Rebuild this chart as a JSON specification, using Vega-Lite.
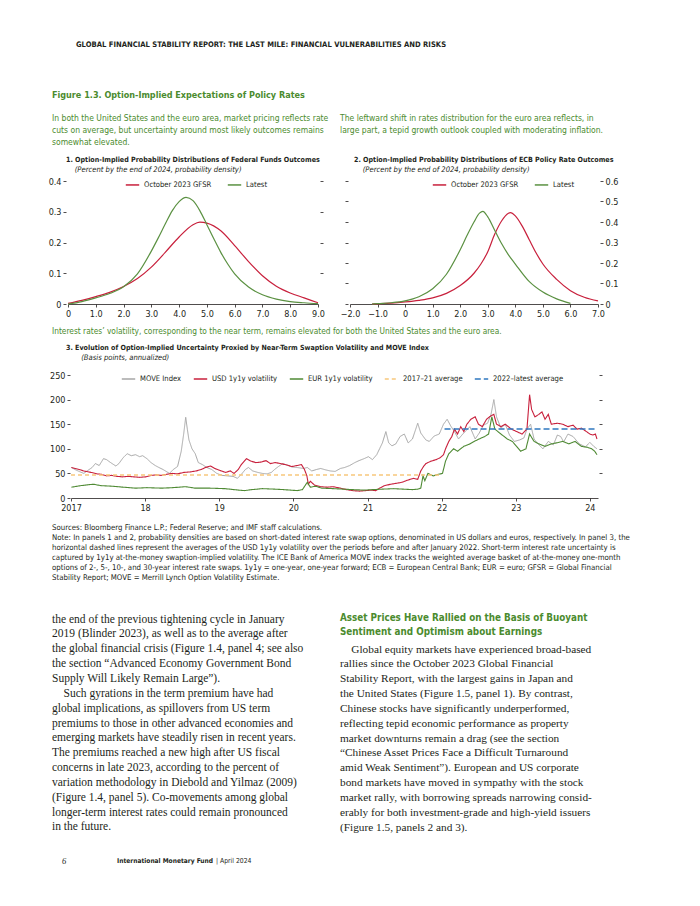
{
"$schema": "https://vega.github.io/schema/vega-lite/v6.json",
"padding": {"left": 48, "top": 41, "right": 20, "bottom": 20},
"background": "white",
"bounds": "flush", "spacing": 0, "align": "none",
"resolve": {"scale": {"color": "independent", "strokeDash": "independent"}, "legend": {"color": "independent", "strokeDash": "independent"}},
"config": {
 "view": {"stroke": null},
 "font": "Liberation Sans Narrow, Arial Narrow, DejaVu Sans Condensed, sans-serif",
 "title": {"anchor": "start", "frame": "group", "color": "#231f20", "fontWeight": "normal", "font": "Liberation Sans Narrow, Arial Narrow, DejaVu Sans Condensed, sans-serif", "subtitleFont": "Liberation Sans Narrow, Arial Narrow, DejaVu Sans Condensed, sans-serif", "subtitleColor": "#231f20", "offset": 0},
 "axis": {"labelFont": "Liberation Sans Narrow, Arial Narrow, DejaVu Sans Condensed, sans-serif", "labelFontSize": 9, "labelColor": "#231f20", "tickColor": "#231f20", "domainColor": "#231f20", "grid": false, "labelFlush": false, "labelOverlap": false, "tickSize": 3, "labelPadding": 2, "domainWidth": 0.8, "tickWidth": 0.8},
 "legend": {"labelFont": "Liberation Sans Narrow, Arial Narrow, DejaVu Sans Condensed, sans-serif", "labelFontSize": 7.6, "labelColor": "#231f20", "symbolType": "stroke", "symbolStrokeWidth": 1.5, "symbolSize": 180, "orient": "none", "direction": "horizontal", "columnPadding": 12, "labelOffset": 4}
},
"datasets": {
 "p1": [
  {"s":"October 2023 GFSR","x":0,"y":0.002},{"s":"October 2023 GFSR","x":0.5,"y":0.012},{"s":"October 2023 GFSR","x":1,"y":0.024},{"s":"October 2023 GFSR","x":1.5,"y":0.038},{"s":"October 2023 GFSR","x":2,"y":0.057},{"s":"October 2023 GFSR","x":2.5,"y":0.083},{"s":"October 2023 GFSR","x":3,"y":0.12},{"s":"October 2023 GFSR","x":3.5,"y":0.168},{"s":"October 2023 GFSR","x":4,"y":0.218},{"s":"October 2023 GFSR","x":4.5,"y":0.258},{"s":"October 2023 GFSR","x":4.75,"y":0.266},{"s":"October 2023 GFSR","x":5,"y":0.263},{"s":"October 2023 GFSR","x":5.5,"y":0.238},{"s":"October 2023 GFSR","x":6,"y":0.19},{"s":"October 2023 GFSR","x":6.5,"y":0.138},{"s":"October 2023 GFSR","x":7,"y":0.092},{"s":"October 2023 GFSR","x":7.5,"y":0.058},{"s":"October 2023 GFSR","x":8,"y":0.036},{"s":"October 2023 GFSR","x":8.5,"y":0.02},{"s":"October 2023 GFSR","x":9,"y":0.004},
  {"s":"Latest","x":0,"y":0},{"s":"Latest","x":0.5,"y":0.008},{"s":"Latest","x":1,"y":0.02},{"s":"Latest","x":1.5,"y":0.034},{"s":"Latest","x":2,"y":0.056},{"s":"Latest","x":2.5,"y":0.098},{"s":"Latest","x":3,"y":0.172},{"s":"Latest","x":3.25,"y":0.215},{"s":"Latest","x":3.5,"y":0.26},{"s":"Latest","x":3.75,"y":0.303},{"s":"Latest","x":4,"y":0.333},{"s":"Latest","x":4.25,"y":0.347},{"s":"Latest","x":4.5,"y":0.336},{"s":"Latest","x":4.75,"y":0.303},{"s":"Latest","x":5,"y":0.258},{"s":"Latest","x":5.25,"y":0.212},{"s":"Latest","x":5.5,"y":0.168},{"s":"Latest","x":5.75,"y":0.13},{"s":"Latest","x":6,"y":0.098},{"s":"Latest","x":6.5,"y":0.055},{"s":"Latest","x":7,"y":0.03},{"s":"Latest","x":7.5,"y":0.016},{"s":"Latest","x":8,"y":0.008},{"s":"Latest","x":8.5,"y":0.004},{"s":"Latest","x":9,"y":0.001}
 ],
 "p2": [
  {"s":"October 2023 GFSR","x":-1.2,"y":0},{"s":"October 2023 GFSR","x":-1,"y":0.001},{"s":"October 2023 GFSR","x":-0.5,"y":0.004},{"s":"October 2023 GFSR","x":0,"y":0.01},{"s":"October 2023 GFSR","x":0.5,"y":0.018},{"s":"October 2023 GFSR","x":1,"y":0.03},{"s":"October 2023 GFSR","x":1.5,"y":0.052},{"s":"October 2023 GFSR","x":2,"y":0.09},{"s":"October 2023 GFSR","x":2.5,"y":0.15},{"s":"October 2023 GFSR","x":2.75,"y":0.195},{"s":"October 2023 GFSR","x":3,"y":0.255},{"s":"October 2023 GFSR","x":3.25,"y":0.34},{"s":"October 2023 GFSR","x":3.5,"y":0.405},{"s":"October 2023 GFSR","x":3.75,"y":0.443},{"s":"October 2023 GFSR","x":3.82,"y":0.446},{"s":"October 2023 GFSR","x":4,"y":0.43},{"s":"October 2023 GFSR","x":4.25,"y":0.38},{"s":"October 2023 GFSR","x":4.5,"y":0.315},{"s":"October 2023 GFSR","x":4.75,"y":0.25},{"s":"October 2023 GFSR","x":5,"y":0.195},{"s":"October 2023 GFSR","x":5.5,"y":0.12},{"s":"October 2023 GFSR","x":6,"y":0.065},{"s":"October 2023 GFSR","x":6.5,"y":0.033},{"s":"October 2023 GFSR","x":7,"y":0.015},
  {"s":"Latest","x":-1.2,"y":0},{"s":"Latest","x":-1,"y":0.002},{"s":"Latest","x":-0.5,"y":0.006},{"s":"Latest","x":0,"y":0.015},{"s":"Latest","x":0.5,"y":0.035},{"s":"Latest","x":1,"y":0.074},{"s":"Latest","x":1.5,"y":0.145},{"s":"Latest","x":2,"y":0.265},{"s":"Latest","x":2.25,"y":0.335},{"s":"Latest","x":2.5,"y":0.4},{"s":"Latest","x":2.7,"y":0.443},{"s":"Latest","x":2.82,"y":0.452},{"s":"Latest","x":3,"y":0.425},{"s":"Latest","x":3.25,"y":0.36},{"s":"Latest","x":3.5,"y":0.295},{"s":"Latest","x":3.75,"y":0.24},{"s":"Latest","x":4,"y":0.195},{"s":"Latest","x":4.5,"y":0.11},{"s":"Latest","x":5,"y":0.058},{"s":"Latest","x":5.5,"y":0.025},{"s":"Latest","x":6,"y":0.003}
 ],
 "p3": [
  {"s":"MOVE Index","d":"2017-01-03","v":62},{"s":"MOVE Index","d":"2017-01-25","v":57},{"s":"MOVE Index","d":"2017-02-15","v":53},{"s":"MOVE Index","d":"2017-03-05","v":50},{"s":"MOVE Index","d":"2017-03-25","v":56},{"s":"MOVE Index","d":"2017-04-15","v":62},{"s":"MOVE Index","d":"2017-05-01","v":70},{"s":"MOVE Index","d":"2017-05-20","v":66},{"s":"MOVE Index","d":"2017-06-10","v":80},{"s":"MOVE Index","d":"2017-06-25","v":78},{"s":"MOVE Index","d":"2017-07-15","v":72},{"s":"MOVE Index","d":"2017-08-10","v":65},{"s":"MOVE Index","d":"2017-08-25","v":70},{"s":"MOVE Index","d":"2017-09-15","v":82},{"s":"MOVE Index","d":"2017-10-05","v":90},{"s":"MOVE Index","d":"2017-10-25","v":86},{"s":"MOVE Index","d":"2017-11-15","v":88},{"s":"MOVE Index","d":"2017-12-05","v":84},{"s":"MOVE Index","d":"2017-12-20","v":86},
  {"s":"MOVE Index","d":"2018-01-10","v":80},{"s":"MOVE Index","d":"2018-01-30","v":72},{"s":"MOVE Index","d":"2018-02-20","v":66},{"s":"MOVE Index","d":"2018-03-10","v":62},{"s":"MOVE Index","d":"2018-03-30","v":58},{"s":"MOVE Index","d":"2018-04-15","v":54},{"s":"MOVE Index","d":"2018-05-01","v":50},{"s":"MOVE Index","d":"2018-05-20","v":58},{"s":"MOVE Index","d":"2018-06-10","v":64},{"s":"MOVE Index","d":"2018-06-28","v":95},{"s":"MOVE Index","d":"2018-07-10","v":130},{"s":"MOVE Index","d":"2018-07-20","v":164},{"s":"MOVE Index","d":"2018-07-28","v":140},{"s":"MOVE Index","d":"2018-08-05","v":118},{"s":"MOVE Index","d":"2018-08-20","v":100},{"s":"MOVE Index","d":"2018-09-05","v":90},{"s":"MOVE Index","d":"2018-09-20","v":72},{"s":"MOVE Index","d":"2018-10-10","v":68},{"s":"MOVE Index","d":"2018-11-01","v":62},{"s":"MOVE Index","d":"2018-11-25","v":58},{"s":"MOVE Index","d":"2018-12-20","v":50},
  {"s":"MOVE Index","d":"2019-01-15","v":46},{"s":"MOVE Index","d":"2019-02-10","v":45},{"s":"MOVE Index","d":"2019-03-10","v":44},{"s":"MOVE Index","d":"2019-04-01","v":40},{"s":"MOVE Index","d":"2019-04-20","v":48},{"s":"MOVE Index","d":"2019-05-10","v":58},{"s":"MOVE Index","d":"2019-05-25","v":62},{"s":"MOVE Index","d":"2019-06-15","v":55},{"s":"MOVE Index","d":"2019-07-10","v":52},{"s":"MOVE Index","d":"2019-08-01","v":50},{"s":"MOVE Index","d":"2019-08-25","v":49},{"s":"MOVE Index","d":"2019-09-15","v":52},{"s":"MOVE Index","d":"2019-10-01","v":58},{"s":"MOVE Index","d":"2019-10-20","v":64},{"s":"MOVE Index","d":"2019-11-10","v":70},{"s":"MOVE Index","d":"2019-11-30","v":67},{"s":"MOVE Index","d":"2019-12-25","v":63},
  {"s":"MOVE Index","d":"2020-01-20","v":62},{"s":"MOVE Index","d":"2020-02-20","v":60},{"s":"MOVE Index","d":"2020-03-10","v":62},{"s":"MOVE Index","d":"2020-04-01","v":55},{"s":"MOVE Index","d":"2020-04-25","v":58},{"s":"MOVE Index","d":"2020-05-15","v":60},{"s":"MOVE Index","d":"2020-06-10","v":57},{"s":"MOVE Index","d":"2020-07-01","v":55},{"s":"MOVE Index","d":"2020-07-25","v":54},{"s":"MOVE Index","d":"2020-08-20","v":60},{"s":"MOVE Index","d":"2020-09-10","v":62},{"s":"MOVE Index","d":"2020-10-05","v":66},{"s":"MOVE Index","d":"2020-10-30","v":72},{"s":"MOVE Index","d":"2020-11-20","v":76},{"s":"MOVE Index","d":"2020-12-15","v":80},
  {"s":"MOVE Index","d":"2021-01-05","v":84},{"s":"MOVE Index","d":"2021-01-25","v":78},{"s":"MOVE Index","d":"2021-02-15","v":88},{"s":"MOVE Index","d":"2021-03-01","v":100},{"s":"MOVE Index","d":"2021-03-15","v":112},{"s":"MOVE Index","d":"2021-04-01","v":135},{"s":"MOVE Index","d":"2021-04-15","v":112},{"s":"MOVE Index","d":"2021-05-01","v":106},{"s":"MOVE Index","d":"2021-05-20","v":110},{"s":"MOVE Index","d":"2021-06-10","v":125},{"s":"MOVE Index","d":"2021-07-01","v":130},{"s":"MOVE Index","d":"2021-07-20","v":112},{"s":"MOVE Index","d":"2021-08-10","v":120},{"s":"MOVE Index","d":"2021-09-05","v":152},{"s":"MOVE Index","d":"2021-09-20","v":132},{"s":"MOVE Index","d":"2021-10-15","v":118},{"s":"MOVE Index","d":"2021-11-01","v":115},{"s":"MOVE Index","d":"2021-11-25","v":126},{"s":"MOVE Index","d":"2021-12-20","v":130},
  {"s":"MOVE Index","d":"2022-01-10","v":150},{"s":"MOVE Index","d":"2022-01-28","v":160},{"s":"MOVE Index","d":"2022-02-15","v":146},{"s":"MOVE Index","d":"2022-03-05","v":135},{"s":"MOVE Index","d":"2022-03-25","v":120},{"s":"MOVE Index","d":"2022-04-15","v":130},{"s":"MOVE Index","d":"2022-05-20","v":145},{"s":"MOVE Index","d":"2022-06-15","v":120},{"s":"MOVE Index","d":"2022-07-05","v":132},{"s":"MOVE Index","d":"2022-07-25","v":148},{"s":"MOVE Index","d":"2022-08-15","v":152},{"s":"MOVE Index","d":"2022-09-01","v":170},{"s":"MOVE Index","d":"2022-09-15","v":200},{"s":"MOVE Index","d":"2022-09-28","v":165},{"s":"MOVE Index","d":"2022-10-20","v":142},{"s":"MOVE Index","d":"2022-11-10","v":150},{"s":"MOVE Index","d":"2022-12-01","v":128},{"s":"MOVE Index","d":"2022-12-25","v":115},
  {"s":"MOVE Index","d":"2023-01-20","v":118},{"s":"MOVE Index","d":"2023-02-10","v":122},{"s":"MOVE Index","d":"2023-02-25","v":140},{"s":"MOVE Index","d":"2023-03-15","v":150},{"s":"MOVE Index","d":"2023-04-01","v":120},{"s":"MOVE Index","d":"2023-04-20","v":110},{"s":"MOVE Index","d":"2023-05-15","v":100},{"s":"MOVE Index","d":"2023-06-10","v":115},{"s":"MOVE Index","d":"2023-07-05","v":108},{"s":"MOVE Index","d":"2023-07-25","v":128},{"s":"MOVE Index","d":"2023-08-10","v":125},{"s":"MOVE Index","d":"2023-08-25","v":114},{"s":"MOVE Index","d":"2023-09-15","v":130},{"s":"MOVE Index","d":"2023-10-10","v":125},{"s":"MOVE Index","d":"2023-11-10","v":110},{"s":"MOVE Index","d":"2023-12-10","v":104},{"s":"MOVE Index","d":"2024-01-01","v":113},{"s":"MOVE Index","d":"2024-01-20","v":105},{"s":"MOVE Index","d":"2024-02-05","v":100},
  {"s":"USD 1y1y volatility","d":"2017-01-03","v":62},{"s":"USD 1y1y volatility","d":"2017-01-20","v":60},{"s":"USD 1y1y volatility","d":"2017-02-10","v":58},{"s":"USD 1y1y volatility","d":"2017-03-05","v":55},{"s":"USD 1y1y volatility","d":"2017-04-10","v":52},{"s":"USD 1y1y volatility","d":"2017-05-10","v":49},{"s":"USD 1y1y volatility","d":"2017-06-01","v":48},{"s":"USD 1y1y volatility","d":"2017-06-25","v":45},{"s":"USD 1y1y volatility","d":"2017-07-20","v":46},{"s":"USD 1y1y volatility","d":"2017-08-15","v":44},{"s":"USD 1y1y volatility","d":"2017-09-10","v":43},{"s":"USD 1y1y volatility","d":"2017-10-10","v":44},{"s":"USD 1y1y volatility","d":"2017-11-05","v":43},{"s":"USD 1y1y volatility","d":"2017-12-05","v":42},
  {"s":"USD 1y1y volatility","d":"2018-01-05","v":43},{"s":"USD 1y1y volatility","d":"2018-02-01","v":46},{"s":"USD 1y1y volatility","d":"2018-02-25","v":47},{"s":"USD 1y1y volatility","d":"2018-03-20","v":46},{"s":"USD 1y1y volatility","d":"2018-04-15","v":48},{"s":"USD 1y1y volatility","d":"2018-05-15","v":50},{"s":"USD 1y1y volatility","d":"2018-06-10","v":49},{"s":"USD 1y1y volatility","d":"2018-07-10","v":52},{"s":"USD 1y1y volatility","d":"2018-08-10","v":53},{"s":"USD 1y1y volatility","d":"2018-09-10","v":55},{"s":"USD 1y1y volatility","d":"2018-10-05","v":58},{"s":"USD 1y1y volatility","d":"2018-10-25","v":62},{"s":"USD 1y1y volatility","d":"2018-11-20","v":65},{"s":"USD 1y1y volatility","d":"2018-12-10","v":60},
  {"s":"USD 1y1y volatility","d":"2019-01-05","v":56},{"s":"USD 1y1y volatility","d":"2019-02-01","v":52},{"s":"USD 1y1y volatility","d":"2019-02-25","v":55},{"s":"USD 1y1y volatility","d":"2019-03-15","v":50},{"s":"USD 1y1y volatility","d":"2019-04-05","v":58},{"s":"USD 1y1y volatility","d":"2019-04-20","v":68},{"s":"USD 1y1y volatility","d":"2019-05-15","v":80},{"s":"USD 1y1y volatility","d":"2019-06-05","v":75},{"s":"USD 1y1y volatility","d":"2019-07-01","v":72},{"s":"USD 1y1y volatility","d":"2019-07-25","v":73},{"s":"USD 1y1y volatility","d":"2019-08-20","v":76},{"s":"USD 1y1y volatility","d":"2019-09-10","v":70},{"s":"USD 1y1y volatility","d":"2019-10-05","v":72},{"s":"USD 1y1y volatility","d":"2019-10-30","v":70},{"s":"USD 1y1y volatility","d":"2019-12-01","v":67},{"s":"USD 1y1y volatility","d":"2019-12-25","v":64},
  {"s":"USD 1y1y volatility","d":"2020-01-20","v":66},{"s":"USD 1y1y volatility","d":"2020-02-10","v":68},{"s":"USD 1y1y volatility","d":"2020-02-25","v":58},{"s":"USD 1y1y volatility","d":"2020-03-08","v":45},{"s":"USD 1y1y volatility","d":"2020-03-15","v":28},{"s":"USD 1y1y volatility","d":"2020-03-25","v":34},{"s":"USD 1y1y volatility","d":"2020-04-15","v":26},{"s":"USD 1y1y volatility","d":"2020-05-15","v":23},{"s":"USD 1y1y volatility","d":"2020-06-15","v":22},{"s":"USD 1y1y volatility","d":"2020-07-15","v":23},{"s":"USD 1y1y volatility","d":"2020-08-20","v":20},{"s":"USD 1y1y volatility","d":"2020-09-20","v":17},{"s":"USD 1y1y volatility","d":"2020-10-20","v":15},{"s":"USD 1y1y volatility","d":"2020-11-20","v":14},{"s":"USD 1y1y volatility","d":"2020-12-20","v":15},
  {"s":"USD 1y1y volatility","d":"2021-01-20","v":16},{"s":"USD 1y1y volatility","d":"2021-02-10","v":15},{"s":"USD 1y1y volatility","d":"2021-03-01","v":20},{"s":"USD 1y1y volatility","d":"2021-03-25","v":25},{"s":"USD 1y1y volatility","d":"2021-04-25","v":28},{"s":"USD 1y1y volatility","d":"2021-05-25","v":30},{"s":"USD 1y1y volatility","d":"2021-06-20","v":32},{"s":"USD 1y1y volatility","d":"2021-07-15","v":36},{"s":"USD 1y1y volatility","d":"2021-08-15","v":40},{"s":"USD 1y1y volatility","d":"2021-09-05","v":38},{"s":"USD 1y1y volatility","d":"2021-09-20","v":55},{"s":"USD 1y1y volatility","d":"2021-10-05","v":65},{"s":"USD 1y1y volatility","d":"2021-10-15","v":70},{"s":"USD 1y1y volatility","d":"2021-11-10","v":75},{"s":"USD 1y1y volatility","d":"2021-12-05","v":78},{"s":"USD 1y1y volatility","d":"2021-12-25","v":82},
  {"s":"USD 1y1y volatility","d":"2022-01-10","v":88},{"s":"USD 1y1y volatility","d":"2022-01-20","v":100},{"s":"USD 1y1y volatility","d":"2022-02-05","v":115},{"s":"USD 1y1y volatility","d":"2022-02-20","v":125},{"s":"USD 1y1y volatility","d":"2022-03-05","v":140},{"s":"USD 1y1y volatility","d":"2022-03-20","v":130},{"s":"USD 1y1y volatility","d":"2022-04-05","v":145},{"s":"USD 1y1y volatility","d":"2022-04-20","v":135},{"s":"USD 1y1y volatility","d":"2022-05-05","v":150},{"s":"USD 1y1y volatility","d":"2022-05-25","v":160},{"s":"USD 1y1y volatility","d":"2022-06-15","v":165},{"s":"USD 1y1y volatility","d":"2022-07-01","v":150},{"s":"USD 1y1y volatility","d":"2022-07-20","v":145},{"s":"USD 1y1y volatility","d":"2022-08-10","v":160},{"s":"USD 1y1y volatility","d":"2022-08-25","v":165},{"s":"USD 1y1y volatility","d":"2022-09-15","v":170},{"s":"USD 1y1y volatility","d":"2022-09-28","v":150},{"s":"USD 1y1y volatility","d":"2022-10-20","v":145},{"s":"USD 1y1y volatility","d":"2022-11-10","v":150},{"s":"USD 1y1y volatility","d":"2022-12-10","v":140},
  {"s":"USD 1y1y volatility","d":"2023-01-05","v":135},{"s":"USD 1y1y volatility","d":"2023-02-01","v":130},{"s":"USD 1y1y volatility","d":"2023-02-25","v":140},{"s":"USD 1y1y volatility","d":"2023-03-10","v":210},{"s":"USD 1y1y volatility","d":"2023-03-20","v":180},{"s":"USD 1y1y volatility","d":"2023-04-05","v":165},{"s":"USD 1y1y volatility","d":"2023-04-25","v":170},{"s":"USD 1y1y volatility","d":"2023-05-10","v":175},{"s":"USD 1y1y volatility","d":"2023-05-25","v":160},{"s":"USD 1y1y volatility","d":"2023-06-10","v":170},{"s":"USD 1y1y volatility","d":"2023-06-25","v":150},{"s":"USD 1y1y volatility","d":"2023-07-25","v":152},{"s":"USD 1y1y volatility","d":"2023-08-20","v":150},{"s":"USD 1y1y volatility","d":"2023-09-15","v":145},{"s":"USD 1y1y volatility","d":"2023-10-10","v":148},{"s":"USD 1y1y volatility","d":"2023-10-30","v":140},{"s":"USD 1y1y volatility","d":"2023-11-20","v":142},{"s":"USD 1y1y volatility","d":"2023-12-15","v":135},{"s":"USD 1y1y volatility","d":"2024-01-01","v":130},{"s":"USD 1y1y volatility","d":"2024-01-15","v":128},{"s":"USD 1y1y volatility","d":"2024-01-28","v":130},{"s":"USD 1y1y volatility","d":"2024-02-05","v":120},
  {"s":"EUR 1y1y volatility","d":"2017-01-03","v":22},{"s":"EUR 1y1y volatility","d":"2017-02-15","v":25},{"s":"EUR 1y1y volatility","d":"2017-04-20","v":28},{"s":"EUR 1y1y volatility","d":"2017-06-01","v":25},{"s":"EUR 1y1y volatility","d":"2017-07-20","v":24},{"s":"EUR 1y1y volatility","d":"2017-09-15","v":22},{"s":"EUR 1y1y volatility","d":"2017-11-15","v":20},{"s":"EUR 1y1y volatility","d":"2018-01-10","v":21},{"s":"EUR 1y1y volatility","d":"2018-03-25","v":20},{"s":"EUR 1y1y volatility","d":"2018-05-15","v":21},{"s":"EUR 1y1y volatility","d":"2018-07-20","v":23},{"s":"EUR 1y1y volatility","d":"2018-09-05","v":20},{"s":"EUR 1y1y volatility","d":"2018-11-15","v":20},{"s":"EUR 1y1y volatility","d":"2019-01-30","v":19},{"s":"EUR 1y1y volatility","d":"2019-03-15","v":17},{"s":"EUR 1y1y volatility","d":"2019-05-05","v":15},{"s":"EUR 1y1y volatility","d":"2019-06-10","v":17},{"s":"EUR 1y1y volatility","d":"2019-08-01","v":19},{"s":"EUR 1y1y volatility","d":"2019-10-01","v":18},{"s":"EUR 1y1y volatility","d":"2019-11-15","v":17},{"s":"EUR 1y1y volatility","d":"2019-12-20","v":16},
  {"s":"EUR 1y1y volatility","d":"2020-01-20","v":15},{"s":"EUR 1y1y volatility","d":"2020-02-15","v":17},{"s":"EUR 1y1y volatility","d":"2020-03-10","v":32},{"s":"EUR 1y1y volatility","d":"2020-03-25","v":22},{"s":"EUR 1y1y volatility","d":"2020-04-20","v":24},{"s":"EUR 1y1y volatility","d":"2020-05-20","v":20},{"s":"EUR 1y1y volatility","d":"2020-07-15","v":19},{"s":"EUR 1y1y volatility","d":"2020-09-01","v":18},{"s":"EUR 1y1y volatility","d":"2020-10-20","v":17},{"s":"EUR 1y1y volatility","d":"2020-12-15","v":16},{"s":"EUR 1y1y volatility","d":"2021-01-25","v":17},{"s":"EUR 1y1y volatility","d":"2021-03-15","v":18},{"s":"EUR 1y1y volatility","d":"2021-05-10","v":19},{"s":"EUR 1y1y volatility","d":"2021-06-25","v":18},{"s":"EUR 1y1y volatility","d":"2021-08-10","v":17},{"s":"EUR 1y1y volatility","d":"2021-09-05","v":18},{"s":"EUR 1y1y volatility","d":"2021-09-20","v":20},{"s":"EUR 1y1y volatility","d":"2021-10-01","v":45},{"s":"EUR 1y1y volatility","d":"2021-10-10","v":35},{"s":"EUR 1y1y volatility","d":"2021-10-25","v":50},{"s":"EUR 1y1y volatility","d":"2021-11-20","v":45},{"s":"EUR 1y1y volatility","d":"2021-12-15","v":48},
  {"s":"EUR 1y1y volatility","d":"2022-01-05","v":50},{"s":"EUR 1y1y volatility","d":"2022-01-20","v":75},{"s":"EUR 1y1y volatility","d":"2022-02-05","v":90},{"s":"EUR 1y1y volatility","d":"2022-03-01","v":100},{"s":"EUR 1y1y volatility","d":"2022-03-20","v":95},{"s":"EUR 1y1y volatility","d":"2022-04-20","v":105},{"s":"EUR 1y1y volatility","d":"2022-05-20","v":110},{"s":"EUR 1y1y volatility","d":"2022-06-10","v":115},{"s":"EUR 1y1y volatility","d":"2022-07-05","v":120},{"s":"EUR 1y1y volatility","d":"2022-08-01","v":125},{"s":"EUR 1y1y volatility","d":"2022-08-20","v":130},{"s":"EUR 1y1y volatility","d":"2022-09-05","v":165},{"s":"EUR 1y1y volatility","d":"2022-09-20","v":140},{"s":"EUR 1y1y volatility","d":"2022-10-20","v":130},{"s":"EUR 1y1y volatility","d":"2022-11-20","v":120},{"s":"EUR 1y1y volatility","d":"2022-12-15","v":115},{"s":"EUR 1y1y volatility","d":"2023-01-05","v":105},{"s":"EUR 1y1y volatility","d":"2023-01-25","v":95},{"s":"EUR 1y1y volatility","d":"2023-02-20","v":100},{"s":"EUR 1y1y volatility","d":"2023-03-10","v":130},{"s":"EUR 1y1y volatility","d":"2023-04-01","v":115},{"s":"EUR 1y1y volatility","d":"2023-04-25","v":110},{"s":"EUR 1y1y volatility","d":"2023-05-25","v":105},{"s":"EUR 1y1y volatility","d":"2023-06-25","v":110},{"s":"EUR 1y1y volatility","d":"2023-07-20","v":112},{"s":"EUR 1y1y volatility","d":"2023-08-20","v":115},{"s":"EUR 1y1y volatility","d":"2023-09-20","v":110},{"s":"EUR 1y1y volatility","d":"2023-10-20","v":115},{"s":"EUR 1y1y volatility","d":"2023-11-20","v":105},{"s":"EUR 1y1y volatility","d":"2023-12-20","v":103},{"s":"EUR 1y1y volatility","d":"2024-01-10","v":100},{"s":"EUR 1y1y volatility","d":"2024-01-25","v":95},{"s":"EUR 1y1y volatility","d":"2024-02-05","v":88},
  {"s":"2017–21 average","d":"2017-01-01","v":47},{"s":"2017–21 average","d":"2022-01-01","v":47},
  {"s":"2022–latest average","d":"2022-01-15","v":140},{"s":"2022–latest average","d":"2024-02-05","v":140}
 ]
},
"vconcat": [
 {"width": 600, "height": 51, "data": {"values": []}, "mark": "point",
  "title": {"text": "GLOBAL FINANCIAL STABILITY REPORT: THE LAST MILE: FINANCIAL VULNERABILITIES AND RISKS", "fontSize": 7.6, "fontWeight": "bold", "dx": 24}},
 {"width": 600, "height": 46, "data": {"values": []}, "mark": "point",
  "title": {"text": "Figure 1.3. Option-Implied Expectations of Policy Rates", "fontSize": 9, "fontWeight": "bold", "color": "#4b8b2e"}},
 {"bounds": "flush", "spacing": 0, "align": "none",
  "resolve": {"scale": {"color": "independent", "strokeDash": "independent"}, "legend": {"color": "independent", "strokeDash": "independent"}},
  "hconcat": [
  {"width": 288, "height": 31, "data": {"values": []}, "mark": "point",
   "title": {"text": ["In both the United States and the euro area, market pricing reflects rate", "cuts on average, but uncertainty around most likely outcomes remains", "somewhat elevated."], "fontSize": 8.5, "lineHeight": 12, "color": "#4b8b2e"}},
  {"width": 300, "height": 31, "data": {"values": []}, "mark": "point",
   "title": {"text": ["The leftward shift in rates distribution for the euro area reflects, in", "large part, a tepid growth outlook coupled with moderating inflation."], "fontSize": 8.5, "lineHeight": 12, "color": "#4b8b2e", "offset": 16}}
 ]},
 {"width": 600, "height": 31, "data": {"values": []}, "mark": "point"},
 {"bounds": "flush", "spacing": 0, "align": "none",
  "resolve": {"scale": {"color": "independent", "strokeDash": "independent"}, "legend": {"color": "independent", "strokeDash": "independent"}},
  "hconcat": [
  {"width": 16, "height": 123, "data": {"values": []}, "mark": "point"},
  {"width": 250, "height": 123, "data": {"name": "p1"},
   "title": {"text": "1. Option-Implied Probability Distributions of Federal Funds Outcomes", "subtitle": "\u200b\u00a0\u00a0\u00a0\u00a0(Percent by the end of 2024, probability density)", "fontSize": 7.1, "fontWeight": "bold", "subtitleFontSize": 7.6, "subtitleFontStyle": "italic", "subtitlePadding": 2.5, "dx": -2, "offset": 3.5},
   "encoding": {"x": {"field": "x", "type": "quantitative", "title": null, "scale": {"domain": [0, 9], "nice": false}, "axis": {"values": [0,1,2,3,4,5,6,7,8,9], "labelExpr": "datum.value == 0 ? '0' : format(datum.value, '.1f')"}}},
   "layer": [
    {"mark": {"type": "line", "interpolate": "monotone", "strokeWidth": 1.2},
     "encoding": {"y": {"field": "y", "type": "quantitative", "title": null, "scale": {"domain": [0, 0.4], "nice": false}, "axis": {"values": [0,0.1,0.2,0.3,0.4], "labelExpr": "datum.value == 0 ? '0' : format(datum.value, '.1f')", "domain": false, "offset": 2}},
      "color": {"field": "s", "type": "nominal", "scale": {"domain": ["October 2023 GFSR", "Latest"], "range": ["#c8203c", "#5b9142"]}, "legend": {"title": null, "legendX": 57, "legendY": -4}}}},
    {"mark": {"type": "line", "opacity": 0},
     "encoding": {"y": {"field": "y", "type": "quantitative", "title": null, "axis": {"orient": "right", "values": [0.1,0.2,0.3,0.4], "labels": false, "domain": false, "offset": 2}}, "detail": {"field": "s"}}}
   ],
   "resolve": {"axis": {"y": "independent"}}},
  {"width": 32, "height": 123, "data": {"values": []}, "mark": "point"},
  {"width": 248, "height": 123, "data": {"name": "p2"},
   "title": {"text": "2. Option-Implied Probability Distributions of ECB Policy Rate Outcomes", "subtitle": "\u200b\u00a0\u00a0\u00a0\u00a0(Percent by the end of 2024, probability density)", "fontSize": 7.1, "fontWeight": "bold", "subtitleFontSize": 7.6, "subtitleFontStyle": "italic", "subtitlePadding": 2.5, "dx": 4, "offset": 3.5},
   "encoding": {"x": {"field": "x", "type": "quantitative", "title": null, "scale": {"domain": [-2, 7], "nice": false}, "axis": {"values": [-2,-1,0,1,2,3,4,5,6,7], "labelExpr": "datum.value == 0 ? '0' : replace(format(datum.value, '.1f'), '-', '−')"}}},
   "layer": [
    {"data": {"values": [{}]}, "mark": {"type": "rule", "color": "#8c8c8c", "strokeWidth": 0.8}, "encoding": {"x": {"datum": 0}}},
    {"mark": {"type": "line", "interpolate": "monotone", "strokeWidth": 1.2},
     "encoding": {"y": {"field": "y", "type": "quantitative", "title": null, "scale": {"domain": [0, 0.6], "nice": false}, "axis": {"values": [0,0.1,0.2,0.3,0.4,0.5,0.6], "labels": false, "domain": false, "offset": 2}},
      "color": {"field": "s", "type": "nominal", "scale": {"domain": ["October 2023 GFSR", "Latest"], "range": ["#c8203c", "#5b9142"]}, "legend": {"title": null, "legendX": 82, "legendY": -4}}}},
    {"mark": {"type": "line", "opacity": 0},
     "encoding": {"y": {"field": "y", "type": "quantitative", "title": null, "axis": {"orient": "right", "values": [0,0.1,0.2,0.3,0.4,0.5,0.6], "labelExpr": "datum.value == 0 ? '0' : format(datum.value, '.1f')", "domain": false, "offset": 2}}, "detail": {"field": "s"}}}
   ],
   "resolve": {"axis": {"y": "independent"}}}
 ]},
 {"width": 600, "height": 123, "data": {"values": []}, "mark": "point"},
 {"width": 600, "height": 71, "data": {"values": []}, "mark": "point",
  "title": {"text": "Interest rates’ volatility, corresponding to the near term, remains elevated for both the United States and the euro area.", "fontSize": 8.3, "color": "#4b8b2e", "offset": -31}},
 {"bounds": "flush", "spacing": 0, "align": "none",
  "resolve": {"scale": {"color": "independent", "strokeDash": "independent"}, "legend": {"color": "independent", "strokeDash": "independent"}},
  "hconcat": [
  {"width": 19, "height": 123, "data": {"values": []}, "mark": "point"},
  {"width": 527, "height": 123, "data": {"name": "p3"},
   "title": {"text": "3. Evolution of Option-Implied Uncertainty Proxied by Near-Term Swaption Volatility and MOVE Index", "subtitle": "\u200b\u00a0\u00a0\u00a0\u00a0\u00a0\u00a0\u00a0(Basis points, annualized)", "fontSize": 7.1, "fontWeight": "bold", "subtitleFontSize": 7.6, "subtitleFontStyle": "italic", "subtitlePadding": 3.5, "dx": -5, "offset": 9},
   "encoding": {"x": {"field": "d", "type": "temporal", "title": null, "scale": {"domain": ["2017-01-01", "2024-02-10"], "nice": false}, "axis": {"values": [{"year": 2017, "month": 1, "date": 1}, {"year": 2018, "month": 1, "date": 1}, {"year": 2019, "month": 1, "date": 1}, {"year": 2020, "month": 1, "date": 1}, {"year": 2021, "month": 1, "date": 1}, {"year": 2022, "month": 1, "date": 1}, {"year": 2023, "month": 1, "date": 1}, {"year": 2024, "month": 1, "date": 1}], "labelExpr": "timeFormat(datum.value, '%Y') == '2017' ? '2017' : timeFormat(datum.value, '%y')"}}},
   "layer": [
    {"transform": [{"filter": "datum.s == 'MOVE Index'"}],
     "mark": {"type": "line", "strokeWidth": 1},
     "encoding": {"y": {"field": "v", "type": "quantitative", "title": null, "scale": {"domain": [0, 250], "nice": false}, "axis": {"values": [0,50,100,150,200,250], "domain": false, "offset": 1}},
      "color": {"field": "s", "type": "nominal", "scale": {"domain": ["MOVE Index", "USD 1y1y volatility", "EUR 1y1y volatility", "2017–21 average", "2022–latest average"], "range": ["#a6a6a6", "#c8203c", "#4f8a34", "#f7c77c", "#2f78c0"]}, "legend": {"title": null, "legendX": 50, "legendY": -4, "columnPadding": 8, "encode": {"symbols": {"update": {"strokeDash": {"signal": "datum.value == '2017–21 average' ? [4, 3] : (datum.value == '2022–latest average' ? [5, 2.5] : [1, 0])"}}}}}},
      "strokeDash": {"field": "s", "type": "nominal", "legend": null, "scale": {"domain": ["MOVE Index", "USD 1y1y volatility", "EUR 1y1y volatility", "2017–21 average", "2022–latest average"], "range": [[1,0],[1,0],[1,0],[4,3],[6,3]]}}}},
    {"transform": [{"filter": "datum.s == 'USD 1y1y volatility' || datum.s == 'EUR 1y1y volatility'"}],
     "mark": {"type": "line", "strokeWidth": 1.1},
     "encoding": {"y": {"field": "v", "type": "quantitative", "title": null, "axis": null},
      "color": {"field": "s", "type": "nominal"},
      "strokeDash": {"field": "s", "type": "nominal", "legend": null}}},
    {"transform": [{"filter": "datum.s == '2017–21 average' || datum.s == '2022–latest average'"}],
     "mark": {"type": "line", "strokeWidth": 1.5},
     "encoding": {"y": {"field": "v", "type": "quantitative", "title": null, "axis": null},
      "color": {"field": "s", "type": "nominal"},
      "strokeDash": {"field": "s", "type": "nominal", "legend": null}}},
    {"mark": {"type": "line", "opacity": 0},
     "encoding": {"y": {"field": "v", "type": "quantitative", "title": null, "axis": {"orient": "right", "values": [50,100,150,200,250], "labels": false, "domain": false, "offset": 1}}, "detail": {"field": "s"}}}
   ],
   "resolve": {"axis": {"y": "independent"}}}
 ]},
 {"width": 600, "height": 123, "data": {"values": []}, "mark": "point"},
 {"width": 600, "height": 90, "data": {"values": []}, "mark": "point",
  "title": {"text": ["Sources: Bloomberg Finance L.P.; Federal Reserve; and IMF staff calculations.", "Note: In panels 1 and 2, probability densities are based on short-dated interest rate swap options, denominated in US dollars and euros, respectively. In panel 3, the", "horizontal dashed lines represent the averages of the USD 1y1y volatility over the periods before and after January 2022. Short-term interest rate uncertainty is", "captured by 1y1y at-the-money swaption-implied volatility. The ICE Bank of America MOVE index tracks the weighted average basket of at-the-money one-month", "options of 2-, 5-, 10-, and 30-year interest rate swaps. 1y1y = one-year, one-year forward; ECB = European Central Bank; EUR = euro; GFSR = Global Financial", "Stability Report; MOVE = Merrill Lynch Option Volatility Estimate."], "fontSize": 7.8, "lineHeight": 10, "offset": -83.5}},
 {"bounds": "flush", "spacing": 0, "align": "none",
  "hconcat": [
  {"width": 288, "height": 281, "data": {"values": []}, "mark": "point",
   "title": {"text": ["the end of the previous tightening cycle in January", "2019 (Blinder 2023), as well as to the average after", "the global financial crisis (Figure 1.4, panel 4; see also", "the section “Advanced Economy Government Bond", "Supply Will Likely Remain Large”).", "\u200b\u00a0\u00a0\u00a0\u00a0Such gyrations in the term premium have had", "global implications, as spillovers from US term", "premiums to those in other advanced economies and", "emerging markets have steadily risen in recent years.", "The premiums reached a new high after US fiscal", "concerns in late 2023, according to the percent of", "variation methodology in Diebold and Yilmaz (2009)", "(Figure 1.4, panel 5). Co-movements among global", "longer-term interest rates could remain pronounced", "in the future."], "font": "Liberation Serif, DejaVu Serif, serif", "fontSize": 11.5, "lineHeight": 14.85, "offset": -245}},
  {"width": 300, "height": 281, "data": {"values": []}, "mark": "point",
   "title": {"text": ["Asset Prices Have Rallied on the Basis of Buoyant", "Sentiment and Optimism about Earnings"], "subtitle": ["\u200b\u00a0\u00a0\u00a0\u00a0Global equity markets have experienced broad-based", "rallies since the October 2023 Global Financial", "Stability Report, with the largest gains in Japan and", "the United States (Figure 1.5, panel 1). By contrast,", "Chinese stocks have significantly underperformed,", "reflecting tepid economic performance as property", "market downturns remain a drag (see the section", "“Chinese Asset Prices Face a Difficult Turnaround", "amid Weak Sentiment”). European and US corporate", "bond markets have moved in sympathy with the stock", "market rally, with borrowing spreads narrowing consid-", "erably for both investment-grade and high-yield issuers", "(Figure 1.5, panels 2 and 3)."], "fontSize": 9.8, "fontWeight": "bold", "color": "#4b8b2e", "lineHeight": 14, "subtitleFont": "Liberation Serif, DejaVu Serif, serif", "subtitleFontSize": 11.3, "subtitleLineHeight": 14.85, "subtitlePadding": 7, "offset": -245}}
 ]},
 {"width": 600, "height": 281, "data": {"values": []}, "mark": "point"},
 {"bounds": "flush", "spacing": 0, "align": "none",
  "hconcat": [
  {"width": 65, "height": 10, "data": {"values": []}, "mark": "point", "title": {"text": "6", "fontSize": 8.5, "font": "Liberation Serif, DejaVu Serif, serif", "fontStyle": "italic", "dx": 10}},
  {"width": 99, "height": 10, "data": {"values": []}, "mark": "point", "title": {"text": "International Monetary Fund", "fontSize": 6.6, "fontWeight": "bold"}},
  {"width": 100, "height": 10, "data": {"values": []}, "mark": "point", "title": {"text": "| April 2024", "fontSize": 6.8}}
 ]}
]
}
